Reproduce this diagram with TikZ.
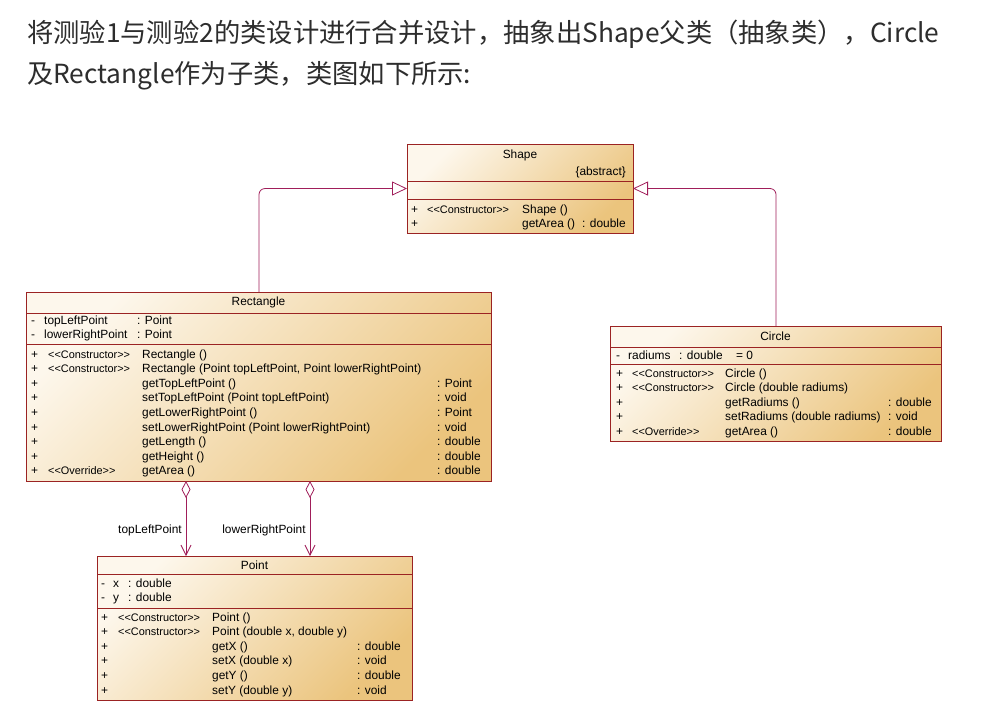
\documentclass[tikz,border=0pt]{standalone}
\usepackage{fontspec}
\setmainfont{Liberation Sans}
\newfontfamily\cjk{Noto Sans CJK SC}
\usetikzlibrary{arrows.meta}
\definecolor{boxred}{RGB}{155,35,35}
\definecolor{conn}{RGB}{160,30,90}
\definecolor{fillA}{RGB}{253,247,236}
\definecolor{fillB}{RGB}{235,196,125}
\definecolor{headtxt}{RGB}{45,45,45}
\tikzset{
  classbox/.style={draw=boxred, line width=0.8pt, left color=fillA, right color=fillB, shading angle=45, anchor=north west, inner sep=0pt, outer sep=0pt},
  sep/.style={draw=boxred, line width=0.8pt},
  txt/.style={anchor=base west, inner sep=0pt, font=\fontsize{11.9}{13}\selectfont, text=black},
  stx/.style={txt, font=\fontsize{10.9}{13}\selectfont},
  ctxt/.style={txt, anchor=base},
  rtxt/.style={txt, anchor=base east},
  gen/.style={draw=conn, line width=0.8pt, rounded corners=6pt, -{Triangle[open, length=15pt, width=14pt, fill=white]}},
  agg/.style={draw=conn, line width=0.8pt, {Diamond[open, length=17pt, width=9pt, fill=white]}-{Straight Barb[length=10pt, width=10pt]}},
  head/.style={anchor=base west, inner sep=0pt, font=\cjk\fontsize{26.3}{30}\selectfont, text=headtxt},
  lbl/.style={anchor=base, inner sep=0pt, font=\fontsize{11.9}{13}\selectfont}
}
\begin{document}
\begin{tikzpicture}[x=1pt,y=-1pt]
\useasboundingbox[fill=white] (0,0) rectangle (982,724);
% heading
\node[head] (h1) at (27,42) {将测验1与测验2的类设计进行合并设计，抽象出Shape父类（抽象类），Circle};
\node[head] (h2) at (27,83) {及Rectangle作为子类，类图如下所示:};

% ---------- Shape ----------
\node[classbox, minimum width=226pt, minimum height=89pt] (shape) at (407,144) {};
\draw[sep] (shape.west |- 0,181) -- (shape.east |- 0,181);
\draw[sep] (shape.west |- 0,199) -- (shape.east |- 0,199);
\node[ctxt] (sT) at (520,158) {Shape};
\node[rtxt] (sA) at (626,175) {\{abstract\}};
\node[txt] (s1a) at (411,213) {+};
\node[stx] (s1b) at (427,213) {<{}<Constructor>{}>};
\node[txt] (s1c) at (522,213) {Shape ()};
\node[txt] (s2a) at (411,227.6) {+};
\node[txt] (s2c) at (522,227.6) {getArea ()};
\node[txt] (s2d) at (582,227.6) {: double};

% ---------- Rectangle ----------
\node[classbox, minimum width=465pt, minimum height=189pt] (rect) at (26,292) {};
\draw[sep] (rect.west |- 0,313) -- (rect.east |- 0,313);
\draw[sep] (rect.west |- 0,344) -- (rect.east |- 0,344);
\node[ctxt] (rT) at (258.5,305) {Rectangle};
\node[txt] (ra1) at (31,324) {-};
\node[txt] (ra2) at (44,324) {topLeftPoint};
\node[txt] (ra3) at (137,324) {: Point};
\node[txt] (rb1) at (31,338.6) {-};
\node[txt] (rb2) at (44,338.6) {lowerRightPoint};
\node[txt] (rb3) at (137,338.6) {: Point};
\foreach \i/\st/\nm/\rt in {
  0/<{}<Constructor>{}>/Rectangle ()/,
  1/<{}<Constructor>{}>/{Rectangle (Point topLeftPoint, Point lowerRightPoint)}/,
  2//getTopLeftPoint ()/: Point,
  3//setTopLeftPoint (Point topLeftPoint)/: void,
  4//getLowerRightPoint ()/: Point,
  5//setLowerRightPoint (Point lowerRightPoint)/: void,
  6//getLength ()/: double,
  7//getHeight ()/: double,
  8/<{}<Override>{}>/getArea ()/: double}{
  \node[txt] (ro\i a) at (31,358+14.6*\i) {+};
  \node[stx] (ro\i b) at (48,358+14.6*\i) {\st};
  \node[txt] (ro\i c) at (142,358+14.6*\i) {\nm};
  \node[txt] (ro\i d) at (437,358+14.6*\i) {\rt};
}

% ---------- Circle ----------
\node[classbox, minimum width=331pt, minimum height=115pt] (circ) at (610,326) {};
\draw[sep] (circ.west |- 0,347) -- (circ.east |- 0,347);
\draw[sep] (circ.west |- 0,364) -- (circ.east |- 0,364);
\node[ctxt] (cT) at (775.5,340) {Circle};
\node[txt] (ca1) at (616,359) {-};
\node[txt] (ca2) at (628,359) {radiums};
\node[txt] (ca3) at (679,359) {: double};
\node[txt] (ca4) at (736,359) {= 0};
\foreach \i/\st/\nm/\rt in {
  0/<{}<Constructor>{}>/Circle ()/,
  1/<{}<Constructor>{}>/Circle (double radiums)/,
  2//getRadiums ()/: double,
  3//setRadiums (double radiums)/: void,
  4/<{}<Override>{}>/getArea ()/: double}{
  \node[txt] (co\i a) at (616,377+14.6*\i) {+};
  \node[stx] (co\i b) at (632,377+14.6*\i) {\st};
  \node[txt] (co\i c) at (725,377+14.6*\i) {\nm};
  \node[txt] (co\i d) at (888,377+14.6*\i) {\rt};
}

% ---------- Point ----------
\node[classbox, minimum width=315pt, minimum height=144pt] (point) at (97,556) {};
\draw[sep] (point.west |- 0,574) -- (point.east |- 0,574);
\draw[sep] (point.west |- 0,608) -- (point.east |- 0,608);
\node[ctxt] (pT) at (254.5,569) {Point};
\node[txt] (pa1) at (101,587) {-};
\node[txt] (pa2) at (113,587) {x};
\node[txt] (pa3) at (128,587) {: double};
\node[txt] (pb1) at (101,601.6) {-};
\node[txt] (pb2) at (113,601.6) {y};
\node[txt] (pb3) at (128,601.6) {: double};
\foreach \i/\st/\nm/\rt in {
  0/<{}<Constructor>{}>/Point ()/,
  1/<{}<Constructor>{}>/{Point (double x, double y)}/,
  2//getX ()/: double,
  3//setX (double x)/: void,
  4//getY ()/: double,
  5//setY (double y)/: void}{
  \node[txt] (po\i a) at (101,621+14.6*\i) {+};
  \node[stx] (po\i b) at (118,621+14.6*\i) {\st};
  \node[txt] (po\i c) at (212,621+14.6*\i) {\nm};
  \node[txt] (po\i d) at (357,621+14.6*\i) {\rt};
}

% ---------- connectors ----------
\coordinate (g1) at (259,0);
\coordinate (g2) at (776,0);
\draw[gen] (rect.north -| g1) |- (shape.west);
\draw[gen] (circ.north -| g2) |- (shape.east);
\coordinate (a1) at (186,0);
\coordinate (a2) at (310,0);
\draw[agg] (rect.south -| a1) -- (point.north -| a1);
\draw[agg] (rect.south -| a2) -- (point.north -| a2);
\node[lbl] (l1) at (150,533) {topLeftPoint};
\node[lbl] (l2) at (264,533) {lowerRightPoint};
\end{tikzpicture}
\end{document}
